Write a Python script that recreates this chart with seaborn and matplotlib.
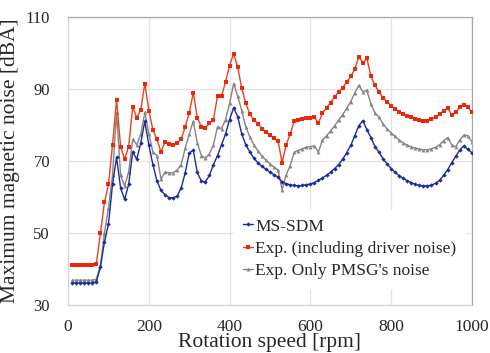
import numpy as np
import pandas as pd
import matplotlib
matplotlib.use("Agg")
import matplotlib.pyplot as plt
import seaborn as sns

# rotation speed [rpm]
speed = list(range(10, 1001, 10))

ms_sdm = [36.1, 36.1, 36.1, 36.1, 36.1, 36.1, 36.5, 40.5, 47.5, 52.5,
          63.5, 71.0, 62.5, 59.3, 63.5, 72.5, 70.5, 75.0, 81.0, 74.4,
          69.0, 64.5, 61.8, 60.6, 59.8, 59.8, 60.2, 62.5, 66.7, 72.2,
          73.0, 66.8, 64.4, 64.2, 66.0, 69.0, 71.5, 74.5, 77.5, 81.5,
          84.8, 82.3, 77.5, 74.5, 72.5, 70.8, 69.5, 68.5, 67.7, 66.9,
          66.2, 65.5, 64.2, 63.7, 63.4, 63.2, 63.1, 63.2, 63.4, 63.6,
          64.0, 64.6, 65.3, 66.0, 66.9, 67.9, 69.0, 70.5, 72.3, 74.3,
          77.0, 79.8, 81.2, 78.7, 76.5, 74.0, 72.4, 70.6, 69.2, 67.9,
          66.8, 65.9, 65.2, 64.5, 64.0, 63.5, 63.2, 63.1, 63.1, 63.3,
          63.8, 64.6, 66.0, 67.6, 69.5, 71.3, 73.0, 74.2, 73.2, 72.3]

exp_driver = [41.1, 41.1, 41.1, 41.1, 41.1, 41.1, 41.5, 50.0, 58.5, 63.5,
              74.5, 87.0, 74.0, 70.5, 74.0, 85.0, 82.0, 84.2, 91.5, 84.0,
              78.6, 76.0, 72.5, 75.3, 74.7, 74.5, 75.0, 76.0, 79.5, 83.3,
              89.0, 82.0, 79.5, 79.2, 80.5, 81.5, 88.0, 88.0, 92.0, 96.5,
              99.8, 96.0, 90.2, 86.0, 83.0, 81.5, 80.3, 79.0, 78.0, 77.2,
              76.3, 75.5, 69.5, 74.5, 77.5, 81.0, 81.3, 81.6, 81.8, 82.0,
              82.2, 80.5, 83.3, 84.8, 86.2, 87.8, 89.2, 90.3, 92.0, 93.5,
              95.5, 99.0, 97.3, 98.5, 93.5, 91.0, 89.2, 87.5, 86.4, 85.4,
              84.4, 83.7, 83.1, 82.5, 82.1, 81.7, 81.3, 81.1, 81.2, 81.6,
              82.2, 83.0, 84.0, 84.7, 82.8, 83.5, 85.0, 85.6, 85.0, 83.5]

exp_pmsg = [36.9, 36.9, 36.9, 36.9, 36.9, 36.9, 37.2, 41.0, 50.0, 57.0,
            66.0, 83.5, 66.0, 63.0, 67.0, 76.0, 74.5, 77.5, 83.5, 77.5,
            72.5, 71.5, 65.0, 66.9, 66.7, 66.7, 67.5, 69.0, 73.5, 77.5,
            81.0, 75.0, 71.5, 70.8, 72.0, 74.5, 79.5, 79.0, 81.5, 86.0,
            91.5, 88.0, 84.0, 79.5, 76.7, 74.5, 72.8, 71.4, 70.2, 69.2,
            68.3, 67.5, 62.0, 66.1, 68.7, 72.4, 72.9, 73.4, 73.8, 74.0,
            74.2, 72.5, 75.8, 77.0, 78.3, 79.8, 81.3, 82.9, 84.6, 86.5,
            88.9, 91.0, 89.2, 89.6, 85.8, 83.3, 82.2, 80.3, 78.9, 77.8,
            76.8, 75.8, 75.0, 74.4, 73.9, 73.6, 73.3, 73.1, 73.1, 73.4,
            73.8, 74.5, 75.6, 76.5, 74.5, 73.9, 75.8, 77.2, 77.0, 75.3]

labels = ["MS-SDM", "Exp. (including driver noise)", "Exp. Only PMSG's noise"]
x_ticks = [0, 200, 400, 600, 800, 1000]
y_ticks = [30, 50, 70, 90, 110]

sns.set_style("white")
plt.rcParams['font.family'] = ['Liberation Serif', 'DejaVu Serif']

fig = plt.figure(figsize=(4.9, 3.53), dpi=100)
ax = fig.add_axes([0.139, 0.136, 0.824, 0.816])

df = pd.DataFrame({"speed": speed, "ms": ms_sdm, "drv": exp_driver, "pmsg": exp_pmsg})

sns.lineplot(data=df, x="speed", y="ms", ax=ax, color="#1c2c9c", lw=1.0,
             marker="D", markersize=2.2, markeredgewidth=0, label=labels[0], zorder=4)
sns.lineplot(data=df, x="speed", y="drv", ax=ax, color="#e8431a", lw=1.0,
             marker="s", markersize=2.6, markeredgewidth=0, markerfacecolor="#e82a0c",
             label=labels[1], zorder=3)
sns.lineplot(data=df, x="speed", y="pmsg", ax=ax, color="#858585", lw=1.0,
             marker="^", markersize=2.8, markeredgewidth=0, label=labels[2], zorder=2)

ax.set_xlim(0, 1000)
ax.set_ylim(30, 110)
ax.set_xticks(x_ticks)
ax.set_yticks(y_ticks)
ax.grid(True, color="#e3e3e3", lw=0.9)
ax.set_axisbelow(True)
ax.tick_params(axis="x", length=0, pad=10, labelsize=12.5)
ax.tick_params(axis="y", length=0, pad=13, labelsize=12)
for side in ["top", "right"]:
    ax.spines[side].set_color("#a8a8a8")
for side in ["left", "bottom"]:
    ax.spines[side].set_color("#d4d4d4")
for s in ax.spines.values():
    s.set_linewidth(0.9)

ax.set_xlabel("Rotation speed [rpm]", fontsize=15.5, labelpad=-1)
ax.set_ylabel("Maximum magnetic noise [dBA]", fontsize=15.5, labelpad=4)

leg = ax.legend(loc="lower left", bbox_to_anchor=(0.39, 0.03), fontsize=12.5,
                frameon=True, facecolor="white", edgecolor="white", framealpha=1,
                handlelength=0.6, handletextpad=0.1, labelspacing=0.35,
                borderpad=0.5, fancybox=False)

fig.savefig("out.png", dpi=100)
